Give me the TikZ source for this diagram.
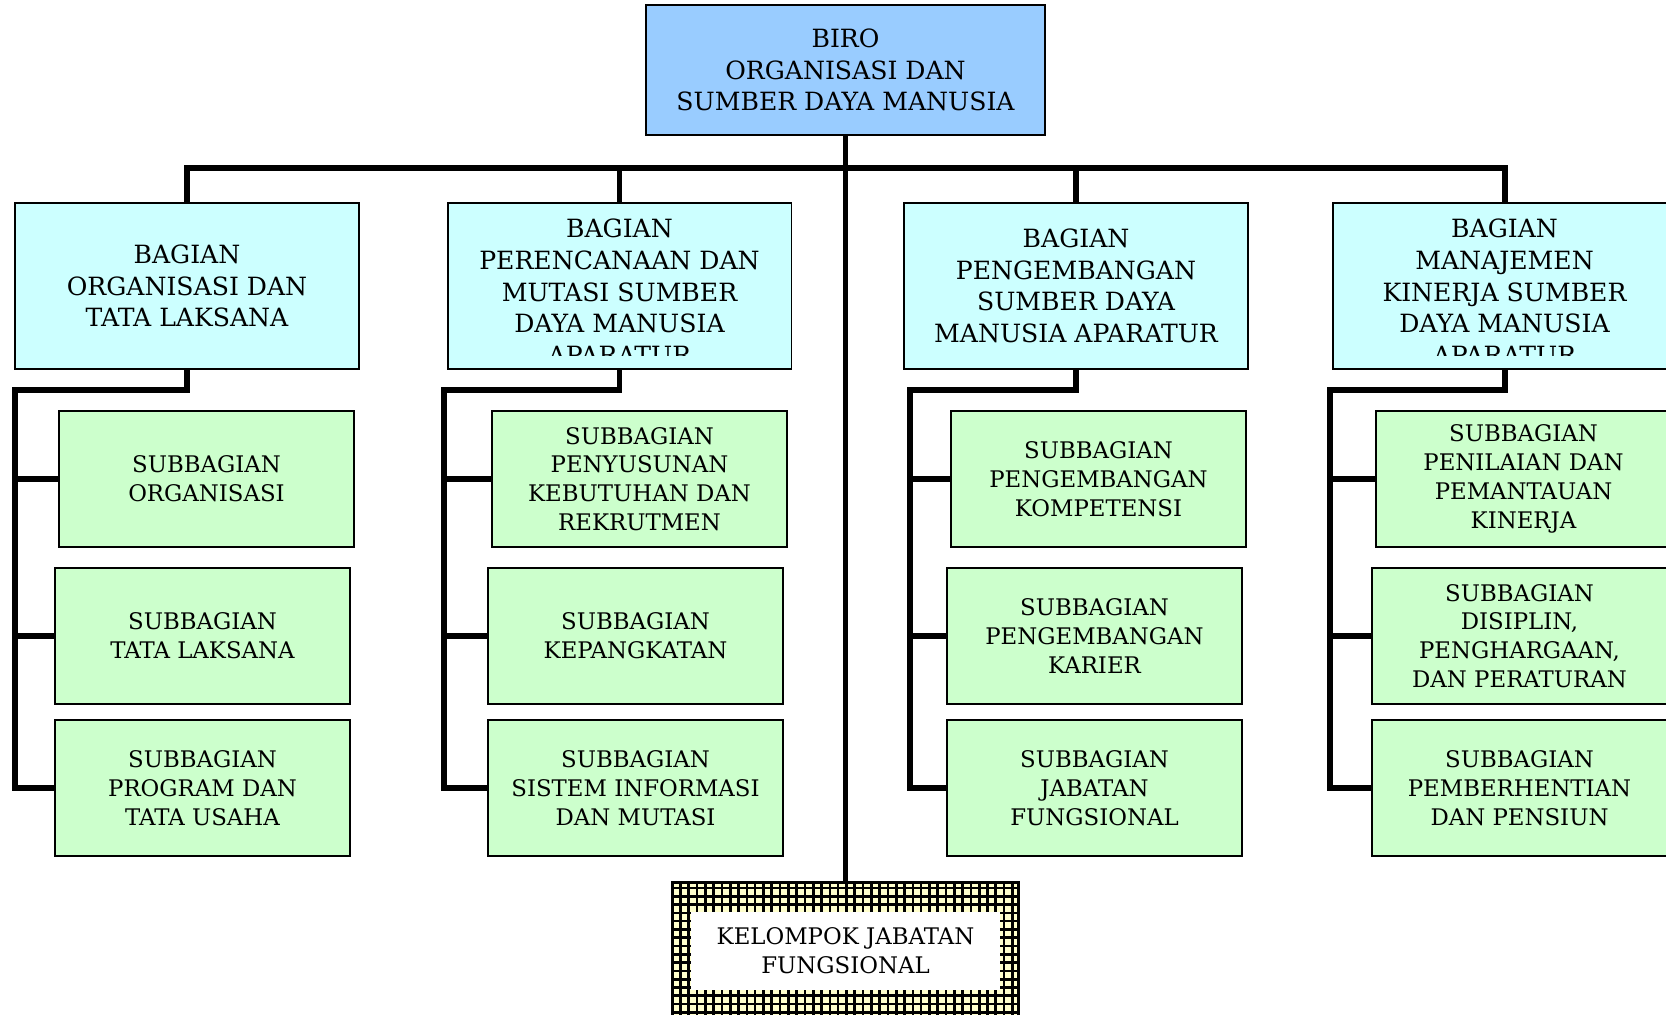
\documentclass[tikz,border=0pt]{standalone}
\usepackage{fontspec}
\setmainfont{DejaVu Serif}
\usetikzlibrary{calc}
\definecolor{biru}{HTML}{99CCFF}
\definecolor{cyanmuda}{HTML}{CCFFFF}
\definecolor{hijau}{HTML}{CCFFCC}
\definecolor{krem}{HTML}{FFFFCC}

\begin{document}
\begin{tikzpicture}[x=0.02cm, y=-0.02cm,
  kotak/.style={draw, line width=1.1pt, inner sep=0pt},
  kbiro/.style={kotak, fill=biru, minimum width=7.98cm, minimum height=2.6cm},
  bagian/.style={kotak, fill=cyanmuda, minimum width=6.88cm, minimum height=3.32cm},
  subbag/.style={kotak, fill=hijau, minimum width=5.9cm, minimum height=2.72cm, teks kecil},
  teks/.style={font=\fontsize{14.3}{18}\selectfont, align=center},
  teks kecil/.style={font=\fontsize{13}{16.4}\selectfont, align=center},
  garis/.style={line width=3.4pt}]
\useasboundingbox (0,0) rectangle (1666,1014);
\clip (0,0) rectangle (1666,1014);
\node[kbiro, teks] (biro) at (845.5,70) {BIRO\\ORGANISASI DAN\\SUMBER DAYA MANUSIA};
\foreach \i/\x in {1/187, 2/619.5, 3/1076, 4/1504.5}
  \node[bagian] (bag\i) at (\x,286) {};
\node[teks] (tb1) at (bag1) {BAGIAN\\ORGANISASI DAN\\TATA LAKSANA};
\begin{scope}
  \clip (447,203) rectangle (792,355);
  \node[teks] (tb2) at (619.5,292) {BAGIAN\\PERENCANAAN DAN\\MUTASI SUMBER\\DAYA MANUSIA\\APARATUR};
\end{scope}
\node[teks] (tb3) at (bag3) {BAGIAN\\PENGEMBANGAN\\SUMBER DAYA\\MANUSIA APARATUR};
\begin{scope}
  \clip (1332,203) rectangle (1677,355);
  \node[teks] (tb4) at (1504.5,292) {BAGIAN\\MANAJEMEN\\KINERJA SUMBER\\DAYA MANUSIA\\APARATUR};
\end{scope}

\node[subbag] (sa1) at (206.5,479) {SUBBAGIAN\\ORGANISASI};
\node[subbag] (sb1) at (202.5,636) {SUBBAGIAN\\TATA LAKSANA};
\node[subbag] (sc1) at (202.5,788) {SUBBAGIAN\\PROGRAM DAN\\TATA USAHA};
\node[subbag] (sa2) at (639.5,479) {SUBBAGIAN\\PENYUSUNAN\\KEBUTUHAN DAN\\REKRUTMEN};
\node[subbag] (sb2) at (635.5,636) {SUBBAGIAN\\KEPANGKATAN};
\node[subbag] (sc2) at (635.5,788) {SUBBAGIAN\\SISTEM INFORMASI\\DAN MUTASI};
\node[subbag] (sa3) at (1098.5,479) {SUBBAGIAN\\PENGEMBANGAN\\KOMPETENSI};
\node[subbag] (sb3) at (1094.5,636) {SUBBAGIAN\\PENGEMBANGAN\\KARIER};
\node[subbag] (sc3) at (1094.5,788) {SUBBAGIAN\\JABATAN\\FUNGSIONAL};
\node[subbag] (sa4) at (1523.5,479) {SUBBAGIAN\\PENILAIAN DAN\\PEMANTAUAN\\KINERJA};
\node[subbag] (sb4) at (1519.5,636) {SUBBAGIAN\\DISIPLIN,\\PENGHARGAAN,\\DAN PERATURAN};
\node[subbag] (sc4) at (1519.5,788) {SUBBAGIAN\\PEMBERHENTIAN\\DAN PENSIUN};

\node[kotak, fill=krem, minimum width=6.9cm, minimum height=2.72cm] (kjf) at (845.5,951) {};
\begin{scope}
  \clip (kjf.south west) rectangle (kjf.north east);
  \draw[line width=1.5pt, step=0.166cm] (kjf.south west) grid (kjf.north east);
\end{scope}
\draw[line width=1.1pt] (kjf.south west) rectangle (kjf.north east);
\node[fill=white, inner sep=0pt, minimum width=6.2cm, minimum height=1.56cm, teks kecil] (kjft) at (kjf) {KELOMPOK JABATAN\\FUNGSIONAL};

\coordinate (bus) at (845.5,168);
\draw[garis] (bag1.north) |- (bus) -| (bag4.north);
\draw[garis] (bag2.north) -- (bag2.north |- bus);
\draw[garis] (bag3.north) -- (bag3.north |- bus);
\draw[garis] (biro.south) -- (kjf.north);
\foreach \i/\k in {1/15, 2/444, 3/910, 4/1330}{
  \coordinate (k\i) at (\k,390);
  \draw[garis] (bag\i.south) |- (k\i) |- (sc\i.west);
  \draw[garis] (sa\i.west -| k\i) -- (sa\i.west);
  \draw[garis] (sb\i.west -| k\i) -- (sb\i.west);
}
\end{tikzpicture}
\end{document}
